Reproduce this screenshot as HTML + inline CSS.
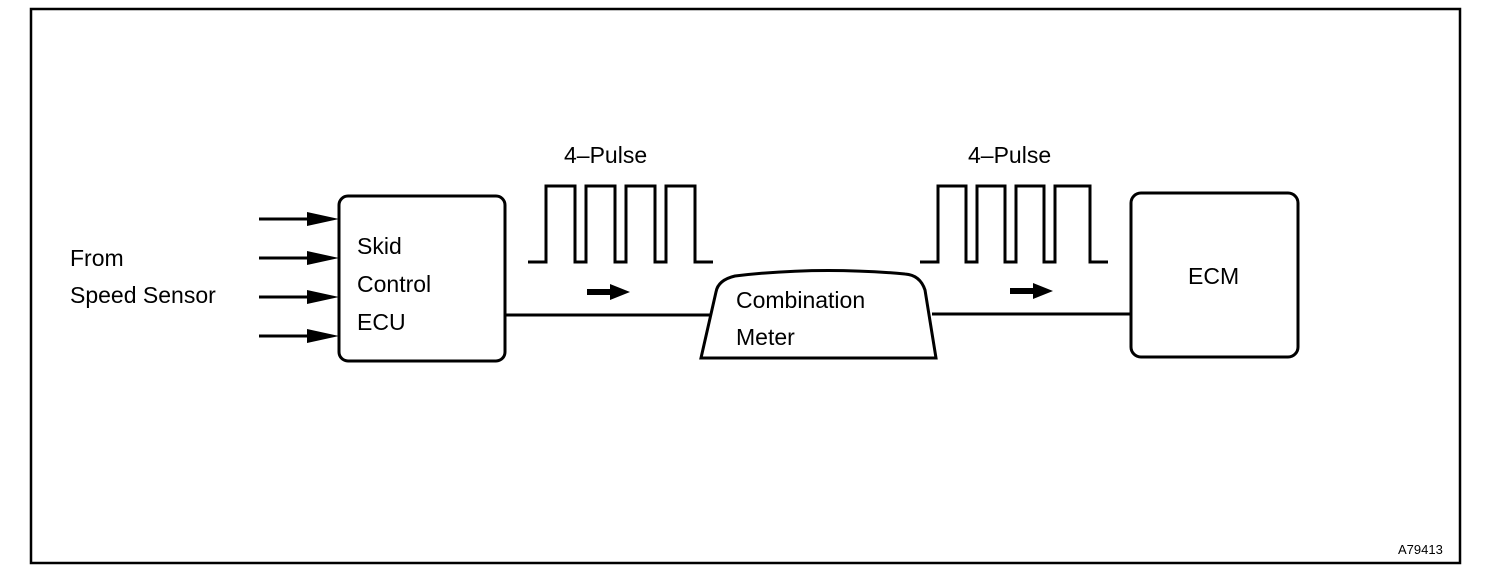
<!DOCTYPE html>
<html><head><meta charset="utf-8"><style>
html,body{margin:0;padding:0;background:#fff;}
svg{display:block;}
text{font-family:"Liberation Sans",Arial,sans-serif;fill:#000;}
</style></head><body>
<svg width="1504" height="580" viewBox="0 0 1504 580" xmlns="http://www.w3.org/2000/svg">
<rect x="31" y="9" width="1429" height="554" fill="none" stroke="#000" stroke-width="2.5"/>
<g stroke="#000" stroke-width="3" fill="none">
<rect x="339" y="196" width="166" height="165" rx="9"/>
<rect x="1131" y="193" width="167" height="164" rx="10"/>
<path d="M701,358 L936,358 L925,290 Q920,275 905,274 Q818,266 735,276 Q718,280 716,292 Z"/>
<line x1="505" y1="315" x2="710" y2="315"/>
<line x1="932" y1="314" x2="1131" y2="314"/>
<path d="M528,262 H546 V186 H575 V262 H586 V186 H615 V262 H626 V186 H655 V262 H666 V186 H695 V262 H713"/>
<path d="M920,262 H938 V186 H966 V262 H977 V186 H1005 V262 H1016 V186 H1044 V262 H1055 V186 H1090 V262 H1108"/>
<line x1="259" y1="219" x2="315" y2="219"/>
<line x1="259" y1="258" x2="315" y2="258"/>
<line x1="259" y1="297" x2="315" y2="297"/>
<line x1="259" y1="336" x2="315" y2="336"/>
<line x1="587" y1="292" x2="612" y2="292" stroke-width="6"/>
<line x1="1010" y1="291" x2="1035" y2="291" stroke-width="6"/>
</g>
<g fill="#000">
<polygon points="307,212 339,219 307,226"/>
<polygon points="307,251 339,258 307,265"/>
<polygon points="307,290 339,297 307,304"/>
<polygon points="307,329 339,336 307,343"/>
<polygon points="610,284 630,292 610,300"/>
<polygon points="1033,283 1053,291 1033,299"/>
</g>
<g font-size="23">
<text x="564" y="163">4–Pulse</text>
<text x="968" y="163">4–Pulse</text>
<text x="70" y="266">From</text>
<text x="70" y="303">Speed Sensor</text>
<text x="357" y="254">Skid</text>
<text x="357" y="292">Control</text>
<text x="357" y="330">ECU</text>
<text x="736" y="308">Combination</text>
<text x="736" y="345">Meter</text>
<text x="1188" y="284">ECM</text>
</g>
<text x="1398" y="554" font-size="13">A79413</text>
</svg>
</body></html>
